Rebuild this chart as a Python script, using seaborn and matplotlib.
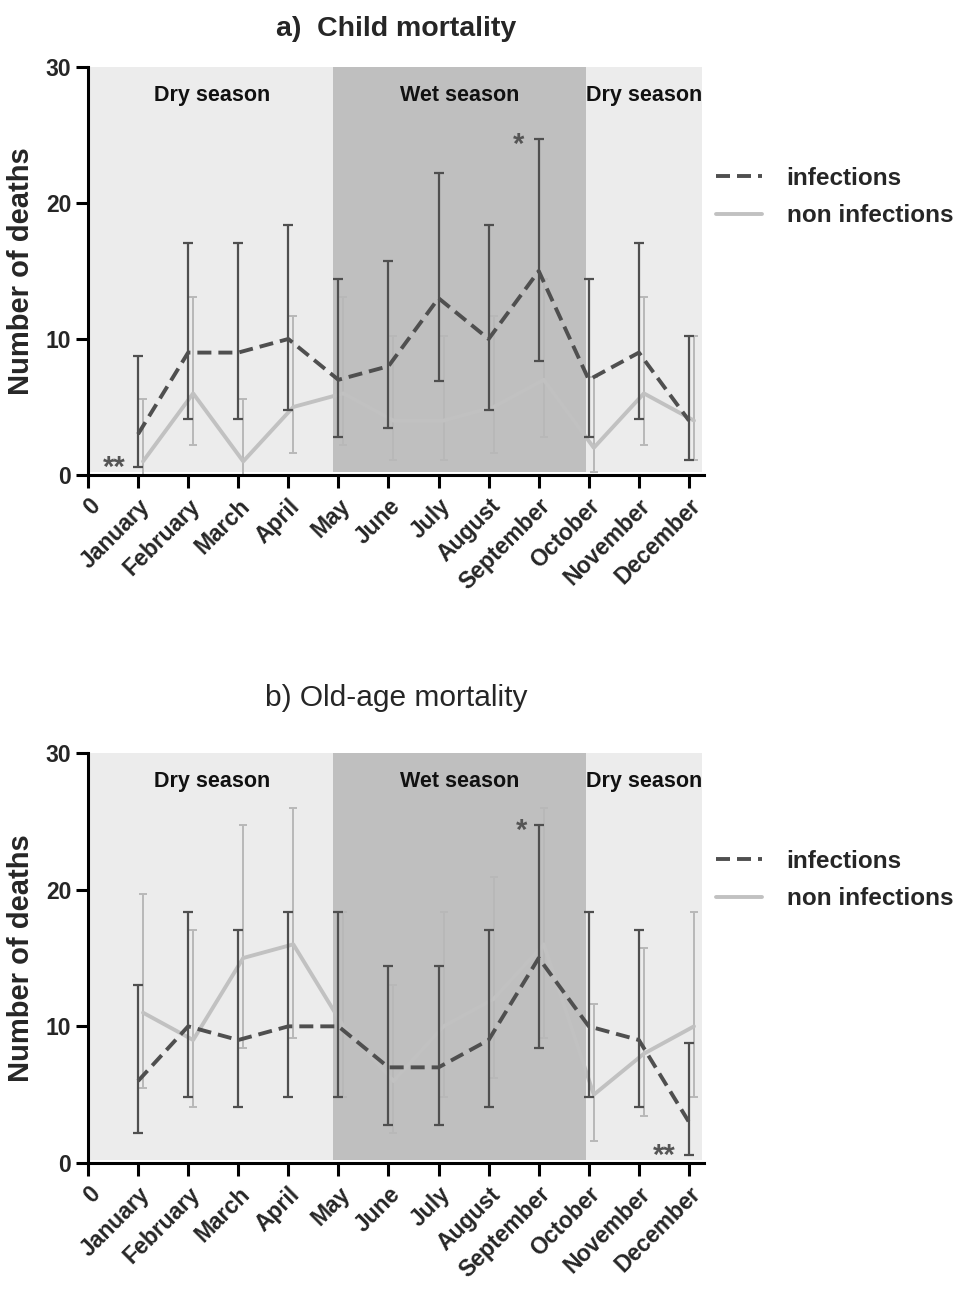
import numpy as np
import pandas as pd
import matplotlib
matplotlib.use("Agg")
import matplotlib.pyplot as plt
import seaborn as sns

# ---- data -------------------------------------------------------------
months = ["January", "February", "March", "April", "May", "June", "July",
          "August", "September", "October", "November", "December"]

child_inf = [3, 9, 9, 10, 7, 8, 13, 10, 15, 7, 9, 4]
child_inf_lo = [0.62, 4.12, 4.12, 4.80, 2.81, 3.45, 6.92, 4.80, 8.40, 2.81, 4.12, 1.09]
child_inf_hi = [8.77, 17.08, 17.08, 18.39, 14.42, 15.76, 22.23, 18.39, 24.74, 14.42, 17.08, 10.24]

child_non = [1, 6, 1, 5, 6, 4, 4, 5, 7, 2, 6, 4]
child_non_lo = [0.03, 2.20, 0.03, 1.62, 2.20, 1.09, 1.09, 1.62, 2.81, 0.24, 2.20, 1.09]
child_non_hi = [5.57, 13.06, 5.57, 11.67, 13.06, 10.24, 10.24, 11.67, 14.42, 7.22, 13.06, 10.24]

old_inf = [6, 10, 9, 10, 10, 7, 7, 9, 15, 10, 9, 3]
old_inf_lo = [2.20, 4.80, 4.12, 4.80, 4.80, 2.81, 2.81, 4.12, 8.40, 4.80, 4.12, 0.62]
old_inf_hi = [13.06, 18.39, 17.08, 18.39, 18.39, 14.42, 14.42, 17.08, 24.74, 18.39, 17.08, 8.77]

old_non = [11, 9, 15, 16, 10, 6, 10, 12, 16, 5, 8, 10]
old_non_lo = [5.49, 4.12, 8.40, 9.15, 4.80, 2.20, 4.80, 6.20, 9.15, 1.62, 3.45, 4.80]
old_non_hi = [19.68, 17.08, 24.74, 25.98, 18.39, 13.06, 18.39, 20.96, 25.98, 11.67, 15.76, 18.39]

seasons = ["Dry season", "Wet season", "Dry season"]
season_bounds = [(0.04, 4.9), (4.9, 9.95), (9.95, 12.25)]

# ---- style ------------------------------------------------------------
sns.set_theme(style="ticks")
plt.rcParams["font.family"] = ["Liberation Sans", "DejaVu Sans"]
plt.rcParams["font.weight"] = "bold"

INF_COL = "#4f4f4f"
NON_COL = "#c1c1c1"
NON_BAR = "#b8b8b8"
DRY_BG = "#ececec"
WET_BG = "#bfbfbf"

fig = plt.figure(figsize=(9.74, 12.96), dpi=100)
ax_a = fig.add_axes([0.0903, 0.6335, 0.6325, 0.3148])
ax_b = fig.add_axes([0.0903, 0.1026, 0.6325, 0.3164])

x_inf = np.arange(1, 13)
x_non = x_inf + 0.1


def draw_panel(ax, title, inf, inf_lo, inf_hi, non, non_lo, non_hi,
               stars, title_weight, title_size, title_pad, legend_y):
    # seasonal background bands
    colours = [DRY_BG, WET_BG, DRY_BG]
    for (x0, x1), c, name in zip(season_bounds, colours, seasons):
        ax.axvspan(x0, x1, ymin=0.007, ymax=1.0, color=c, lw=0, zorder=0)
        ax.text((x0 + x1) / 2, 27.9, name, ha="center", va="center",
                fontsize=15.5, fontweight="bold", color="#111111", zorder=1)

    df = pd.DataFrame({
        "month": np.concatenate([x_non, x_inf]),
        "deaths": np.concatenate([non, inf]),
        "cause": ["non infections"] * 12 + ["infections"] * 12,
    })

    # non-infection series (drawn first, underneath)
    ax.errorbar(x_non, non, yerr=[np.array(non) - np.array(non_lo),
                                  np.array(non_hi) - np.array(non)],
                fmt="none", ecolor=NON_BAR, elinewidth=1.4, capsize=3,
                capthick=1.4, zorder=2)
    sns.lineplot(data=df[df.cause == "non infections"], x="month", y="deaths",
                 ax=ax, color=NON_COL, lw=2.8, label="non infections",
                 zorder=3, legend=False)

    ax.errorbar(x_inf, inf, yerr=[np.array(inf) - np.array(inf_lo),
                                  np.array(inf_hi) - np.array(inf)],
                fmt="none", ecolor=INF_COL, elinewidth=1.6, capsize=3.5,
                capthick=1.6, zorder=4)
    sns.lineplot(data=df[df.cause == "infections"], x="month", y="deaths",
                 ax=ax, color=INF_COL, lw=2.8, label="infections",
                 zorder=5, legend=False)
    ax.lines[-1].set_dashes((3.6, 1.8))

    for (sx, sy, s) in stars:
        ax.text(sx, sy, s, ha="center", va="center", fontsize=21,
                fontweight="bold", color="#555555", zorder=6)

    ax.set_xlim(0, 12.3)
    ax.set_ylim(0, 30)
    ax.set_yticks([0, 10, 20, 30])
    ax.set_xticks(np.arange(0, 13))
    ax.set_xticklabels(["0"] + months, rotation=45, ha="right",
                       rotation_mode="anchor", fontsize=16.5,
                       fontweight="bold")
    for lbl in ax.get_yticklabels():
        lbl.set_fontsize(16.5)
        lbl.set_fontweight("bold")
    ax.set_xlabel("")
    ax.set_ylabel("Number of deaths", fontsize=21, fontweight="bold",
                  labelpad=8)
    ax.set_title(title, fontsize=title_size, fontweight=title_weight,
                 pad=title_pad)

    sns.despine(ax=ax)
    for sp in ("left", "bottom"):
        ax.spines[sp].set_linewidth(2.2)
        ax.spines[sp].set_color("black")
    ax.tick_params(axis="both", direction="out", length=9, width=2.2,
                   color="black", pad=3)
    ax.tick_params(axis="x", pad=5)

    # legend: infections first
    handles, labels = ax.get_legend_handles_labels()
    order = [labels.index("infections"), labels.index("non infections")]
    ax.legend([handles[i] for i in order], [labels[i] for i in order],
              loc="center left", bbox_to_anchor=(1.0, legend_y),
              frameon=False, handlelength=1.9,
              handletextpad=1.0, labelspacing=0.6, borderaxespad=0.5,
              borderpad=0, prop={"weight": "bold", "size": 17.5})


draw_panel(ax_a, "a)  Child mortality",
           child_inf, child_inf_lo, child_inf_hi,
           child_non, child_non_lo, child_non_hi,
           stars=[(0.52, 0.55, "**"), (8.6, 24.3, "*")],
           title_weight="bold", title_size=20.5, title_pad=22,
           legend_y=0.681)

draw_panel(ax_b, "b) Old-age mortality",
           old_inf, old_inf_lo, old_inf_hi,
           old_non, old_non_lo, old_non_hi,
           stars=[(11.5, 0.55, "**"), (8.65, 24.3, "*")],
           title_weight="normal", title_size=21.5, title_pad=34,
           legend_y=0.69)

fig.savefig("out.png", dpi=100, facecolor="white")
